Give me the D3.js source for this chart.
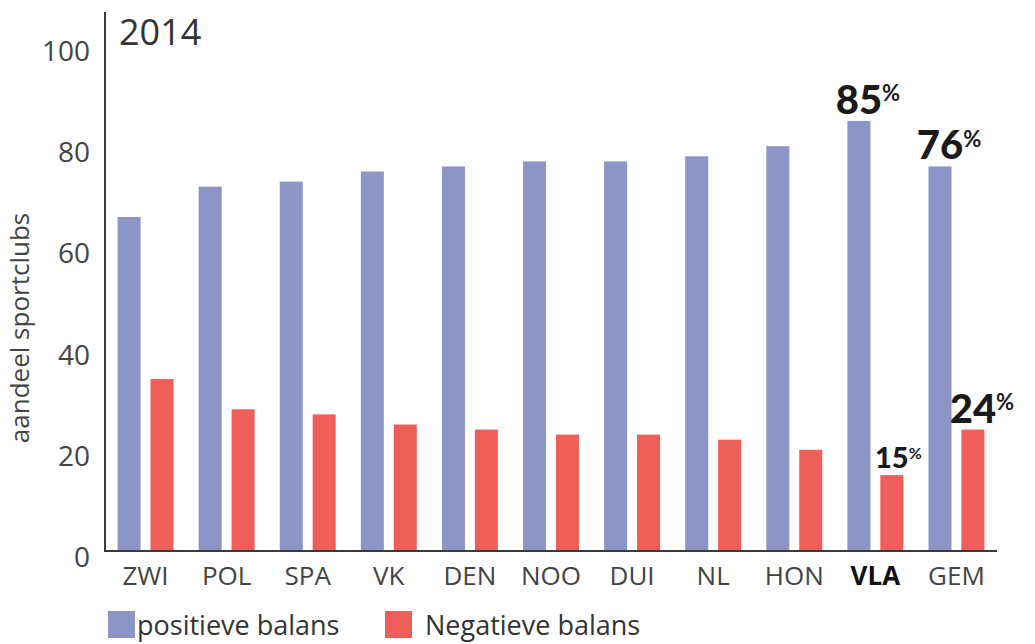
<!DOCTYPE html>
<html>
<head>
<meta charset="utf-8">
<script src="https://cdn.jsdelivr.net/npm/d3@7"></script>
<style>
  body { margin: 0; background: #fff; }
  svg text { font-family: "Open Sans", "Noto Sans", sans-serif; }
</style>
</head>
<body>
<div id="chart"></div>
<script>
// data
var categories = ['ZWI', 'POL', 'SPA', 'VK', 'DEN', 'NOO', 'DUI', 'NL', 'HON', 'VLA', 'GEM'];
var positief = [66, 72, 73, 75, 76, 77, 77, 78, 80, 85, 76];
var negatief = [34, 28, 27, 25, 24, 23, 23, 22, 20, 15, 24];
var yTicks = [0, 20, 40, 60, 80, 100];
var seriesNames = ['positieve balans', 'Negatieve balans'];
var highlighted = 'VLA';
// labelled bars: category, series index, big or small
var callouts = [
	{ cat: 'VLA', s: 0, big: true },
	{ cat: 'GEM', s: 0, big: true },
	{ cat: 'VLA', s: 1, big: false },
	{ cat: 'GEM', s: 1, big: true }
];

var width = 1035, height = 644;
var colors = ['#8c96c6', '#ef5f5a'];

var svg = d3.select('#chart').append('svg')
	.attr('width', width)
	.attr('height', height);

var x0 = d3.scaleBand().domain(categories).range([105, 997]).paddingInner(0.31).paddingOuter(0.155);
var x1 = d3.scaleBand().domain([0, 1]).range([0, x0.bandwidth()]).paddingInner(0.3);
var y = d3.scaleLinear().domain([0, 100]).range([551, 45]);

var rows = categories.map(function(c, i) {
	return { cat: c, values: [positief[i], negatief[i]] };
});

// bars
var groups = svg.selectAll('.grp').data(rows).enter().append('g')
	.attr('class', 'grp')
	.attr('transform', function(d) { return 'translate(' + x0(d.cat) + ',0)'; });

groups.selectAll('rect').data(function(d) { return d.values; }).enter().append('rect')
	.attr('x', function(d, i) { return x1(i); })
	.attr('width', x1.bandwidth())
	.attr('y', function(d) { return y(d); })
	.attr('height', function(d) { return y(0) - y(d); })
	.style('fill', function(d, i) { return colors[i]; });

// y axis
var yAxis = svg.append('g')
	.attr('transform', 'translate(105,0)')
	.call(d3.axisLeft(y).tickValues(yTicks).tickSize(0).tickPadding(15));
yAxis.select('.domain').remove();
yAxis.selectAll('text')
	.attr('dy', '0.55em')
	.style('font-size', '28px')
	.style('fill', '#444');

svg.append('line')
	.attr('x1', 105).attr('x2', 105)
	.attr('y1', 12).attr('y2', y(0) + 1)
	.style('stroke', '#3a3a3a').style('stroke-width', 2);

// x axis
var xAxis = svg.append('g')
	.attr('transform', 'translate(0,' + y(0) + ')')
	.call(d3.axisBottom(x0).tickSize(0).tickPadding(16));
xAxis.select('.domain').remove();
xAxis.selectAll('text')
	.attr('dy', '0.71em')
	.style('font-size', '26px')
	.style('fill', function(d) { return d == highlighted ? '#111' : '#444'; })
	.style('font-weight', function(d) { return d == highlighted ? 'bold' : 'normal'; });

svg.append('line')
	.attr('x1', 104).attr('x2', 997)
	.attr('y1', y(0)).attr('y2', y(0))
	.style('stroke', '#3a3a3a').style('stroke-width', 2);

// year
svg.append('text')
	.attr('x', 119).attr('y', 45)
	.style('font-size', '36px')
	.style('fill', '#333')
	.text('2014');

// y title
svg.append('text')
	.attr('transform', 'translate(29,' + 328 + ') rotate(-90)')
	.attr('text-anchor', 'middle')
	.style('font-size', '26px')
	.style('fill', '#444')
	.text('aandeel sportclubs');

// callouts
callouts.forEach(function(c) {
	var i = categories.indexOf(c.cat);
	var v = c.s == 0 ? positief[i] : negatief[i];
	var cx = x0(c.cat) + x1(c.s) + x1.bandwidth() / 2;
	var fs = c.big ? 40 : 29;
	var t = svg.append('text')
		.attr('x', cx - fs * 0.58)
		.attr('y', y(v) - 7)
		.style('font-family', 'Lato, sans-serif')
		.style('font-weight', 900)
		.style('fill', '#1a1a1a')
		.style('font-size', fs + 'px');
	t.append('tspan').text(v);
	t.append('tspan')
		.attr('dy', -fs * 0.32)
		.style('font-size', (fs * 0.55) + 'px')
		.style('font-weight', 'bold')
		.text('%');
});

// legend
var legendX = [108, 385];
var legend = svg.selectAll('.legend').data(seriesNames).enter().append('g')
	.attr('class', 'legend')
	.attr('transform', function(d, i) { return 'translate(' + legendX[i] + ',611)'; });

legend.append('rect')
	.attr('width', 27).attr('height', 27)
	.style('fill', function(d, i) { return colors[i]; });

legend.append('text')
	.attr('x', function(d, i) { return i == 0 ? 29 : 40; })
	.attr('y', 24)
	.style('font-size', '27px')
	.style('fill', '#333')
	.text(function(d) { return d; });
</script>
</body>
</html>
